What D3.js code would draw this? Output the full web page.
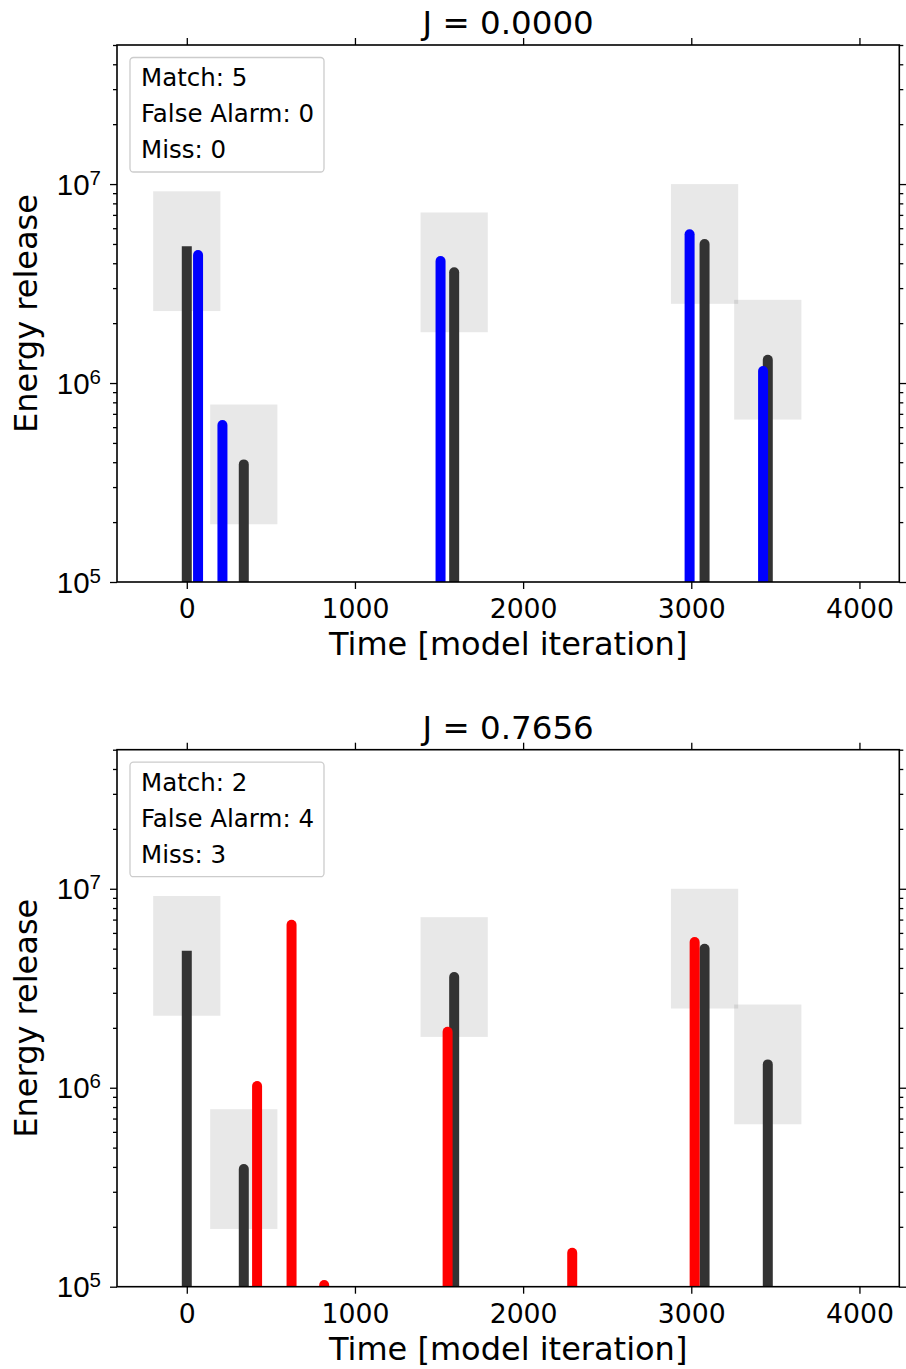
<!DOCTYPE html>
<html>
<head>
<meta charset="utf-8">
<script src="https://cdn.jsdelivr.net/npm/d3@7"></script>
<style>
  html, body { margin: 0; padding: 0; background: #fff; }
  svg { display: block; font-family: "DejaVu Sans", sans-serif; }
</style>
</head>
<body>
<svg id="chart" width="906" height="1369"></svg>
<script>
// ---- data ----
const trueTimes = [0, 339, 1590, 3079, 3455];
const trueValues = [4.6e6, 3.9e5, 3.6e6, 5.0e6, 1.31e6];

const predTimesA = [67, 212, 1509, 2990, 3427];
const predValuesA = [4.4e6, 6.15e5, 4.1e6, 5.6e6, 1.15e6];

const predTimesB = [418, 623, 817, 1551, 2292, 3020];
const predValuesB = [1.02e6, 6.6e6, 1.02e5, 1.91e6, 1.48e5, 5.4e6];

const titles = ["J = 0.0000", "J = 0.7656"];
const legendA = ["Match: 5", "False Alarm: 0", "Miss: 0"];
const legendB = ["Match: 2", "False Alarm: 4", "Miss: 3"];

const xTicks = [0, 1000, 2000, 3000, 4000];
const yMajor = [1e5, 1e6, 1e7];
const yMinor = [];
[1e5, 1e6, 1e7].forEach(d => { for (let k = 2; k <= 9; k++) { const v = d * k; if (v <= 5e7) yMinor.push(v); } });
const yExp = {1e5: "5", 1e6: "6", 1e7: "7"};

const xDomain = [-415, 4237];
const yDomain = [1e5, 5e7];
const boxHalfWidth = 200;   // time window
const boxFactor = 2;        // energy factor

// ---- layout ----
const svg = d3.select("#chart");
const L = 117, R = 899.3;
const panels = [
  {top: 45, bottom: 582, title: titles[0], legend: legendA, predT: predTimesA, predV: predValuesA, color: "#0000ff"},
  {top: 749.7, bottom: 1286.7, title: titles[1], legend: legendB, predT: predTimesB, predV: predValuesB, color: "#ff0000"}
];

const x = d3.scaleLinear().domain(xDomain).range([L, R]);

panels.forEach((p, pi) => {
  const y = d3.scaleLog().domain(yDomain).range([p.bottom, p.top]);
  const g = svg.append("g");
  const clipId = "clip" + pi;
  svg.append("defs").append("clipPath").attr("id", clipId)
    .append("rect").attr("x", L).attr("y", p.top).attr("width", R - L).attr("height", p.bottom - p.top);

  const plot = g.append("g").attr("clip-path", `url(#${clipId})`);

  // tolerance boxes
  plot.selectAll("rect.box").data(trueTimes.map((t, i) => ({t, v: trueValues[i]})))
    .enter().append("rect").attr("class", "box")
    .attr("x", d => x(d.t - boxHalfWidth))
    .attr("width", d => x(d.t + boxHalfWidth) - x(d.t - boxHalfWidth))
    .attr("y", d => y(d.v * boxFactor))
    .attr("height", d => y(d.v / boxFactor) - y(d.v * boxFactor))
    .attr("fill", "#000").attr("fill-opacity", 0.09);

  // true events
  plot.selectAll("line.true").data(trueTimes.map((t, i) => ({t, v: trueValues[i], i})))
    .enter().append("line").attr("class", "true")
    .attr("x1", d => x(d.t)).attr("x2", d => x(d.t))
    .attr("y1", p.bottom + 20).attr("y2", d => y(d.v))
    .attr("stroke", "#333333").attr("stroke-width", 10)
    .attr("stroke-linecap", d => d.i === 0 ? "square" : "round");

  // predicted events
  plot.selectAll("line.pred").data(p.predT.map((t, i) => ({t, v: p.predV[i]})))
    .enter().append("line").attr("class", "pred")
    .attr("x1", d => x(d.t)).attr("x2", d => x(d.t))
    .attr("y1", p.bottom + 20).attr("y2", d => y(d.v))
    .attr("stroke", p.color).attr("stroke-width", 10)
    .attr("stroke-linecap", "round");

  // axes
  const styleAxis = sel => {
    sel.select(".domain").remove();
    sel.selectAll(".tick line").attr("stroke", "#000").attr("stroke-width", 1.3);
    sel.selectAll(".tick text").attr("fill", "#000").attr("font-family", "DejaVu Sans");
  };
  const xb = g.append("g").attr("transform", `translate(0,${p.bottom})`)
    .call(d3.axisBottom(x).tickValues(xTicks).tickSize(7).tickSizeOuter(0).tickPadding(5).tickFormat(d3.format("d")));
  styleAxis(xb);
  xb.selectAll(".tick text").attr("font-size", 26.7).attr("dy", 0).attr("y", 36.3);

  const xt = g.append("g").attr("transform", `translate(0,${p.top})`)
    .call(d3.axisTop(x).tickValues(xTicks).tickSize(7).tickSizeOuter(0).tickFormat(""));
  styleAxis(xt);

  const yl = g.append("g").attr("transform", `translate(${L},0)`)
    .call(d3.axisLeft(y).tickValues(yMajor).tickSize(7).tickSizeOuter(0).tickFormat(""));
  styleAxis(yl);
  yl.selectAll(".tick").each(function(d) {
    const t = d3.select(this).append("text")
      .attr("x", -16).attr("y", 10).attr("text-anchor", "end")
      .attr("font-size", 29.5).attr("fill", "#000");
    t.append("tspan").text("10");
    t.append("tspan").attr("font-size", 20.5).attr("dy", -10).text(yExp[d]);
  });
  const ylm = g.append("g").attr("transform", `translate(${L},0)`)
    .call(d3.axisLeft(y).tickValues(yMinor).tickSize(4).tickSizeOuter(0).tickFormat(""));
  styleAxis(ylm);

  const yr = g.append("g").attr("transform", `translate(${R},0)`)
    .call(d3.axisRight(y).tickValues(yMajor).tickSize(7).tickSizeOuter(0).tickFormat(""));
  styleAxis(yr);
  const yrm = g.append("g").attr("transform", `translate(${R},0)`)
    .call(d3.axisRight(y).tickValues(yMinor).tickSize(4).tickSizeOuter(0).tickFormat(""));
  styleAxis(yrm);

  // spines
  g.append("rect").attr("x", L).attr("y", p.top).attr("width", R - L).attr("height", p.bottom - p.top)
    .attr("fill", "none").attr("stroke", "#000").attr("stroke-width", 1.6);

  // title
  g.append("text").attr("x", (L + R) / 2).attr("y", p.top - 11)
    .attr("text-anchor", "middle").attr("font-size", 32.5).attr("fill", "#000").text(p.title);

  // axis labels
  g.append("text").attr("x", (L + R) / 2).attr("y", p.bottom + 73)
    .attr("text-anchor", "middle").attr("font-size", 32).attr("fill", "#000").text("Time [model iteration]");
  g.append("text").attr("transform", `translate(37,${(p.top + p.bottom) / 2}) rotate(-90)`)
    .attr("text-anchor", "middle").attr("font-size", 32).attr("fill", "#000").text("Energy release");

  // legend
  const lg = g.append("g");
  lg.append("rect").attr("x", 130).attr("y", p.top + 12.5).attr("width", 194).attr("height", 114.5)
    .attr("rx", 3.5).attr("fill", "#fff").attr("fill-opacity", 0.8)
    .attr("stroke", "#cccccc").attr("stroke-width", 1.3);
  p.legend.forEach((s, i) => {
    lg.append("text").attr("x", 141).attr("y", p.top + 41 + i * 36.2)
      .attr("font-size", 24.5).attr("fill", "#000").text(s);
  });
});
</script>
</body>
</html>
